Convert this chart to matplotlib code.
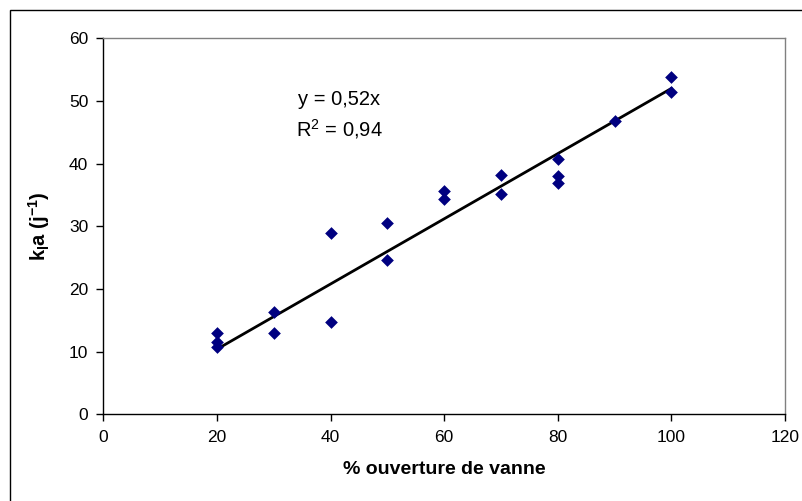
import matplotlib
matplotlib.use("Agg")
import matplotlib.pyplot as plt
from matplotlib.patches import Rectangle

plt.rcParams['font.family'] = ['Liberation Sans', 'DejaVu Sans']
plt.rcParams['mathtext.fontset'] = 'custom'
plt.rcParams['mathtext.rm'] = 'Liberation Sans'
plt.rcParams['mathtext.it'] = 'Liberation Sans'
plt.rcParams['mathtext.bf'] = 'Liberation Sans:bold'

x_vals = [20, 20, 20, 30, 30, 40, 40, 50, 50, 60, 60, 70, 70, 80, 80, 80, 90, 100, 100]
y_vals = [12.9, 11.5, 10.7, 16.3, 13.0, 28.9, 14.8, 30.5, 24.7, 35.7, 34.3,
          38.2, 35.2, 40.7, 38.1, 36.9, 46.8, 53.8, 51.4]
slope = 0.52
fit_x = [20, 100]
x_ticks = [0, 20, 40, 60, 80, 100, 120]
y_ticks = [0, 10, 20, 30, 40, 50, 60]

fig = plt.figure(figsize=(8.02, 5.01), dpi=100)
ax = fig.add_axes([0.129, 0.173, 0.8498, 0.7506])

ax.plot(fit_x, [slope * v for v in fit_x], color='black', lw=2, zorder=2)
ax.scatter(x_vals, y_vals, marker='D', s=42, color='#000080', zorder=3, linewidths=0)

ax.set_xlim(0, 120)
ax.set_ylim(0, 60)
ax.set_xticks(x_ticks)
ax.set_yticks(y_ticks)
ax.tick_params(direction='out', length=5, width=1, labelsize=12.5, colors='black', pad=6)
for s in ['left', 'bottom']:
    ax.spines[s].set_color('black')
    ax.spines[s].set_linewidth(1)
for s in ['top', 'right']:
    ax.spines[s].set_color('#808080')
    ax.spines[s].set_linewidth(1)

ax.set_xlabel('% ouverture de vanne', fontsize=14, fontweight='bold', labelpad=12)
ax.set_ylabel(r'$\mathbf{k_{l}a\ (j^{-1})}$', fontsize=14.5, labelpad=12)

ax.text(0.3456, 0.836, 'y = 0,52x', transform=ax.transAxes, fontsize=14.5, ha='center', va='center')
ax.text(0.3456, 0.758, r'R$^2$ = 0,94', transform=ax.transAxes, fontsize=14.5, ha='center', va='center')

fig.patches.append(Rectangle((10/802, -0.01), 1.0, 1 - 10/501 + 0.01, transform=fig.transFigure,
                             fill=False, edgecolor='black', lw=1))

fig.savefig('out.png', dpi=100)
